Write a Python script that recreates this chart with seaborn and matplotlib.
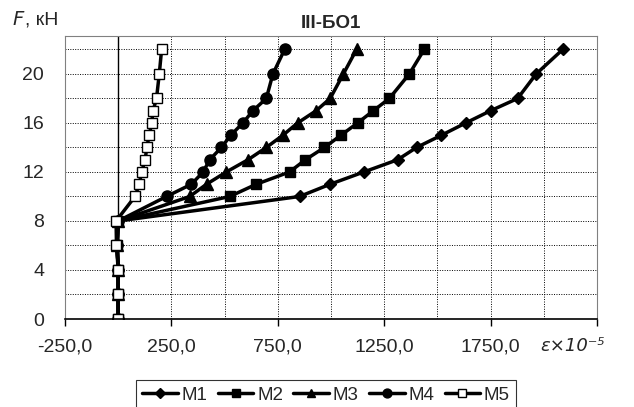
import matplotlib
matplotlib.use("Agg")
import matplotlib.pyplot as plt
import seaborn as sns
import pandas as pd
import numpy as np

sns.set_theme(style="white")
plt.rcParams['font.family'] = ['Liberation Sans', 'DejaVu Sans']

F = [0, 2, 4, 6, 8, 10, 11, 12, 13, 14, 15, 16, 17, 18, 20, 22]
m1 = [0, 0, 0, -5, 0, 852, 996, 1154, 1313, 1402, 1519, 1633, 1750, 1877, 1964, 2089]
m2 = [0, 0, 0, -5, 0, 524, 649, 805, 880, 969, 1047, 1125, 1199, 1274, 1368, 1438]
m3 = [0, 0, 0, -5, 0, 336, 415, 508, 610, 696, 774, 843, 930, 996, 1058, 1120]
m4 = [0, 0, 0, -5, 0, 227, 344, 399, 430, 485, 529, 586, 633, 696, 727, 782]
m5 = [0, 0, 0, -8, -10, 79, 99, 110, 127, 134, 146, 157, 164, 180, 193, 204]
names = ["M1", "M2", "M3", "M4", "M5"]
series = [m1, m2, m3, m4, m5]
markers = ["D", "s", "^", "o", "s"]
msizes = [6.5, 7.5, 8, 8, 7]
faces = ["black", "black", "black", "black", "white"]

x_ticks = [-250, 250, 750, 1250, 1750, 2250]
x_labels = ["-250,0", "250,0", "750,0", "1250,0", "1750,0", ""]
y_ticks = [0, 4, 8, 12, 16, 20]

fig = plt.figure(figsize=(6.34, 4.07), dpi=100)
ax = fig.add_axes([65/634, 1-319/407, (597-65)/634, (319-36)/407])

for name, vals, mk, ms, fc in zip(names, series, markers, msizes, faces):
    df = pd.DataFrame({"x": vals, "F": F})
    sns.lineplot(data=df, x="x", y="F", sort=False, estimator=None, ax=ax,
                 color="black", linewidth=2.5, marker=mk, markersize=ms,
                 markerfacecolor=fc, markeredgecolor="black", markeredgewidth=1.0,
                 label=name, legend=False)

ax.set_xlim(-250, 2250)
ax.set_ylim(0, 23.1)
ax.set_xticks(x_ticks)
ax.set_xticklabels(x_labels, fontsize=14)
ax.set_xticks(np.arange(-250, 2251, 250), minor=True)
ax.set_yticks(y_ticks)
ax.set_yticklabels([str(v) for v in y_ticks], fontsize=14)
ax.set_yticks(np.arange(0, 23, 2), minor=True)
ax.grid(True, which="both", color="black", linestyle=(0, (1, 1.5)), linewidth=0.7)
ax.axvline(0, color="black", linewidth=1.0, zorder=1)
ax.set_xlabel("")
ax.set_ylabel("")
for s in ["top", "right", "left"]:
    ax.spines[s].set_color("#808080")
    ax.spines[s].set_linewidth(0.8)
ax.spines["bottom"].set_color("black")
ax.spines["bottom"].set_linewidth(1.2)
ax.tick_params(axis="x", which="major", direction="out", length=5, width=1, color="black", pad=9, bottom=True)
ax.tick_params(axis="x", which="minor", length=0)
ax.tick_params(axis="y", which="both", length=0, pad=15)

fig.text(331/634, 1-24/407, "III-БО1", fontsize=13.5, fontweight="bold", ha="center", va="center")
fig.text(12/634, 1-20/407, "$\\mathit{F}$", fontsize=14, ha="left", va="center")
fig.text(25/634, 1-20/407, ", кН", fontsize=14, ha="left", va="center")
fig.text(573/634, 1-346/407, "ε×10⁻⁵", fontsize=13, ha="center", va="center",
         family=["DejaVu Sans"], style="italic")

handles, labels = ax.get_legend_handles_labels()
leg = fig.legend(handles, labels, loc="upper center", bbox_to_anchor=(326/634, 1-380/407),
                 ncol=5, frameon=True, fontsize=13.5, handlelength=1.9, columnspacing=0.55,
                 handletextpad=0.2, borderpad=0.35, borderaxespad=0, fancybox=False,
                 markerscale=0.8)
leg.get_frame().set_edgecolor("black")
leg.get_frame().set_linewidth(0.8)

fig.savefig("out.png", dpi=100)
